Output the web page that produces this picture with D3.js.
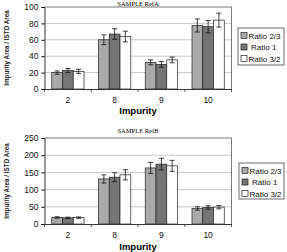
<!DOCTYPE html>
<html><head><meta charset="utf-8">
<script src="https://cdn.jsdelivr.net/npm/d3@7"></script>
<style>body{margin:0;background:#fff}svg{display:block}</style>
</head><body>
<script>
const categories = ["2","8","9","10"];
const seriesNames = ["Ratio 2/3","Ratio 1","Ratio 3/2"];
const colors = ["#a9a9a9","#757575","#ffffff"];
// RefA
const refA_values = [[20,60,32.5,77.5],[22.5,67,30,76],[21.5,64,35.5,84]];
const refA_errors = [[2,6,3,8],[2.5,6.5,3.5,7.5],[2.5,6.5,3.5,8.5]];
const refA_ticks = [0,20,40,60,80,100];
// RefB
const refB_values = [[19,131,163,45],[18,136,174,48],[18.5,143,169,49]];
const refB_errors = [[2,12,16,5],[2,13,17,5],[2,15,16,5]];
const refB_ticks = [0,50,100,150,200,250];

const svg = d3.select("body").append("svg").attr("width",287).attr("height",252);

function panel(cfg){
  const g = svg.append("g");
  const x = d3.scaleBand().domain(categories).range([cfg.left,cfg.right]).paddingInner(0.31).paddingOuter(0.155);
  const xs = d3.scaleBand().domain(seriesNames).range([0,x.bandwidth()]);
  const y = d3.scaleLinear().domain([0,cfg.max]).range([cfg.bottom,cfg.top]);
  g.selectAll(".grid").data(cfg.ticks.filter(t=>t>0 && t<cfg.max)).join("line")
    .attr("x1",cfg.left).attr("x2",cfg.right).attr("y1",d=>y(d)).attr("y2",d=>y(d))
    .attr("stroke","#c8c8c8").attr("stroke-width",1);
  g.append("path").attr("d",`M${cfg.left},${cfg.top}H${cfg.right}V${cfg.bottom}`).attr("fill","none").attr("stroke","#555").attr("stroke-width",0.8);
  seriesNames.forEach((s,si)=>{
    g.selectAll(".b"+si).data(categories).join("rect")
      .attr("x",c=>x(c)+xs(s)).attr("width",xs.bandwidth())
      .attr("y",(c,i)=>y(cfg.values[si][i])).attr("height",(c,i)=>y(0)-y(cfg.values[si][i]))
      .attr("fill",colors[si]).attr("stroke","#222").attr("stroke-width",0.7);
    categories.forEach((c,i)=>{
      const cx = x(c)+xs(s)+xs.bandwidth()/2;
      const v = cfg.values[si][i], e = cfg.errors[si][i];
      g.append("path").attr("d",`M${cx},${y(v-e)}V${y(v+e)}M${cx-2.5},${y(v-e)}H${cx+2.5}M${cx-2.5},${y(v+e)}H${cx+2.5}`)
        .attr("stroke","#111").attr("stroke-width",0.8).attr("fill","none");
    });
  });
  const ya = d3.axisLeft(y).tickValues(cfg.ticks).tickSize(3).tickPadding(3);
  const yg = g.append("g").attr("transform",`translate(${cfg.left},0)`).call(ya);
  yg.select(".domain").attr("stroke","#333");
  yg.selectAll("text").attr("font-family","Liberation Sans, Arial, sans-serif").attr("font-size",8.5).attr("fill","#111");
  const xa = d3.axisBottom(x).tickSize(0).tickPadding(8);
  const xg = g.append("g").attr("transform",`translate(0,${cfg.bottom})`).call(xa);
  xg.select(".domain").attr("stroke","#333");
  xg.selectAll("text").attr("font-family","Liberation Sans, Arial, sans-serif").attr("font-size",8.5).attr("fill","#111");
  const bounds = d3.range(categories.length+1).map(i=>cfg.left + i*(cfg.right-cfg.left)/categories.length);
  g.selectAll(".bt").data(bounds).join("line").attr("x1",d=>d).attr("x2",d=>d)
    .attr("y1",cfg.bottom).attr("y2",cfg.bottom+3).attr("stroke","#333").attr("stroke-width",0.8);
  g.append("text").attr("x",(cfg.left+cfg.right)/2).attr("y",cfg.titleY).attr("text-anchor","middle")
    .attr("font-family","Liberation Serif, Times New Roman, serif").attr("font-size",6.5).text(cfg.title);
  g.append("text").attr("x",(cfg.left+cfg.right)/2).attr("y",cfg.xlabY).attr("text-anchor","middle")
    .attr("font-family","Liberation Sans, Arial, sans-serif").attr("font-weight","bold").attr("font-size",9.5).text("Impurity");
  g.append("text").attr("transform",`translate(8.5,${(cfg.top+cfg.bottom)/2}) rotate(-90)`).attr("text-anchor","middle")
    .attr("font-family","Liberation Sans, Arial, sans-serif").attr("font-weight","bold").attr("font-size",6.3).attr("fill","#222").text("Impurity Area / ISTD Area");
  const L = cfg.legend;
  g.append("rect").attr("x",L.x).attr("y",L.y).attr("width",L.w).attr("height",L.h).attr("fill","#fff").attr("stroke","#444").attr("stroke-width",0.8);
  seriesNames.forEach((s,si)=>{
    const ly = L.y + 8 + si*11.5;
    g.append("rect").attr("x",L.x+3).attr("y",ly-3.5).attr("width",6).attr("height",6).attr("fill",colors[si]).attr("stroke","#222").attr("stroke-width",0.7);
    g.append("text").attr("x",L.x+10.5 + (si===1?2.5:0)).attr("y",ly+2.8).attr("font-family","Liberation Sans, Arial, sans-serif").attr("font-size",8).attr("fill","#111").text(s);
  });
}

panel({title:"SAMPLE RefA",titleY:5.5,left:44.5,right:231.5,top:7,bottom:89,max:100,ticks:refA_ticks,values:refA_values,errors:refA_errors,xlabY:114,legend:{x:238,y:28,w:46,h:37}});
panel({title:"SAMPLE RefB",titleY:133,left:44.5,right:231.5,top:138,bottom:224,max:250,ticks:refB_ticks,values:refB_values,errors:refB_errors,xlabY:249.5,legend:{x:239,y:163,w:45,h:36}});
</script>
</body></html>
